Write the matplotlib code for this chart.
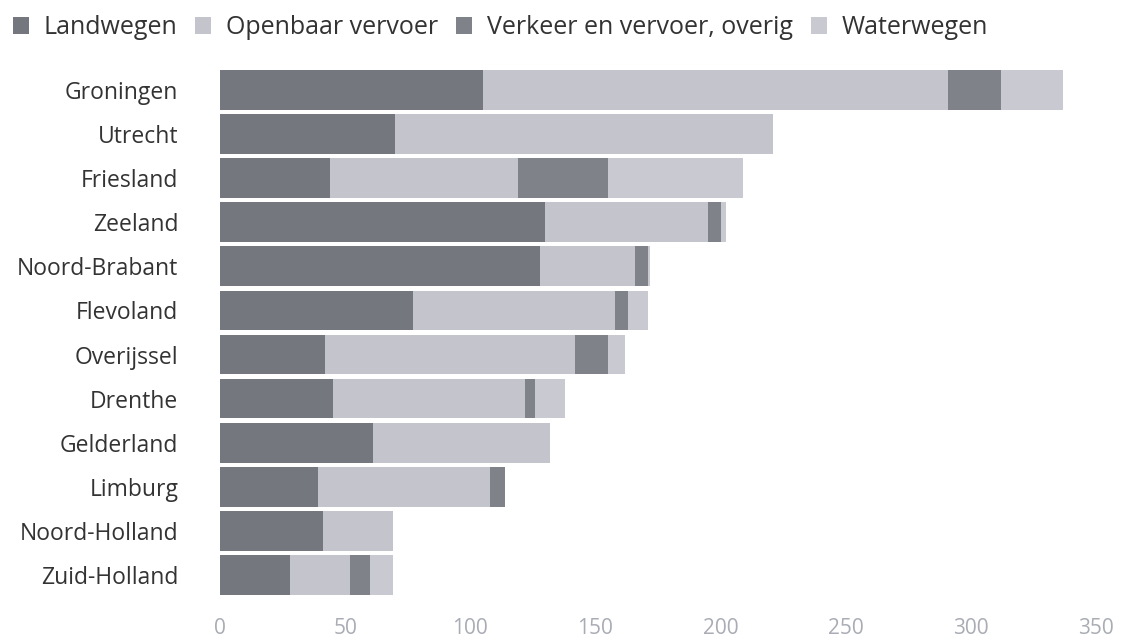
import numpy as np
import matplotlib.pyplot as plt

# Data
provinces = ["Groningen", "Utrecht", "Friesland", "Zeeland", "Noord-Brabant",
             "Flevoland", "Overijssel", "Drenthe", "Gelderland", "Limburg",
             "Noord-Holland", "Zuid-Holland"]
landwegen = [105, 70, 44, 130, 128, 77, 42, 45, 61, 39, 41, 28]
openbaar_vervoer = [186, 151, 75, 65, 38, 81, 100, 77, 71, 69, 28, 24]
verkeer_overig = [21, 0, 36, 5, 5, 5, 13, 4, 0, 6, 0, 8]
waterwegen = [25, 0, 54, 2, 1, 8, 7, 12, 0, 0, 0, 9]

series = [
    ("Landwegen", landwegen, "#74777e"),
    ("Openbaar vervoer", openbaar_vervoer, "#c4c5cc"),
    ("Verkeer en vervoer, overig", verkeer_overig, "#7f8288"),
    ("Waterwegen", waterwegen, "#c9cad1"),
]

plt.rcParams['font.family'] = ['Open Sans', 'DejaVu Sans']

fig = plt.figure(figsize=(11.27, 6.4), dpi=100)
ax = fig.add_axes([0.1952, 0.067, 0.7773, 0.827])

y = np.arange(len(provinces))
left = np.zeros(len(provinces))
for name, vals, color in series:
    vals = np.array(vals, dtype=float)
    ax.barh(y, vals, left=left, height=0.9, color=color, label=name)
    left += vals

ax.set_ylim(len(provinces) - 0.5, -0.5)
ax.set_xlim(0, 350)
ax.set_yticks(y)
ax.set_yticklabels(provinces, fontsize=16.5, color="#333333")
ax.set_xticks(np.arange(0, 351, 50))
ax.tick_params(axis='x', labelsize=15, colors="#a9acb4", length=0, pad=15)
ax.tick_params(axis='y', length=0, pad=30)
for s in ax.spines.values():
    s.set_visible(False)

leg = fig.legend(loc='center left', bbox_to_anchor=(0.0, 0.957), ncol=4,
                 frameon=False, fontsize=18, handlelength=0.65, handleheight=0.65,
                 handletextpad=0.6, columnspacing=0.7, borderaxespad=0.3,
                 borderpad=0.2)
for t in leg.get_texts():
    t.set_color("#333333")

fig.savefig("out.png", dpi=100)
